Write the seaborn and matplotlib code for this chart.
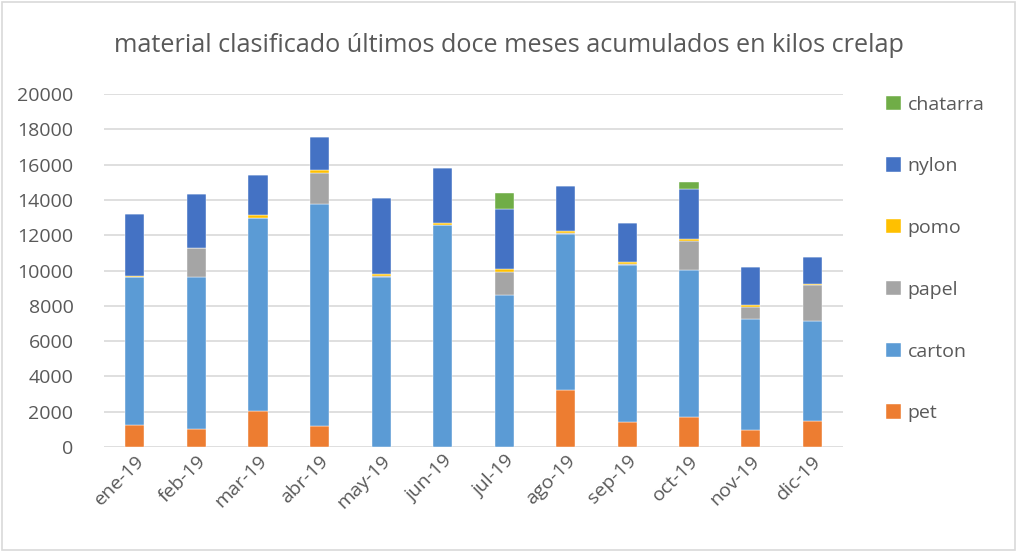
import matplotlib
matplotlib.use("Agg")
import matplotlib.pyplot as plt
from matplotlib.patches import Rectangle
import numpy as np
import pandas as pd
import seaborn as sns

months = ['ene-19', 'feb-19', 'mar-19', 'abr-19', 'may-19', 'jun-19',
          'jul-19', 'ago-19', 'sep-19', 'oct-19', 'nov-19', 'dic-19']

# kilos per material (stack order bottom -> top)
pet = [1230, 1000, 2040, 1190, 0, 0, 0, 3220, 1400, 1700, 950, 1480]
carton = [8380, 8610, 10920, 12600, 9610, 12580, 8610, 8870, 8910, 8310, 6280, 5680]
papel = [50, 1670, 30, 1760, 60, 20, 1320, 30, 30, 1680, 720, 2020]
pomo = [30, 20, 180, 170, 110, 100, 150, 100, 140, 110, 110, 80]
nylon = [3520, 3010, 2230, 1870, 4330, 3120, 3420, 2540, 2190, 2820, 2160, 1500]
chatarra = [0, 0, 0, 0, 0, 0, 910, 0, 0, 400, 0, 0]

materials = ['pet', 'carton', 'papel', 'pomo', 'nylon', 'chatarra']
series = [pet, carton, papel, pomo, nylon, chatarra]
colors = ['#ED7D31', '#5B9BD5', '#A5A5A5', '#FFC000', '#4472C4', '#70AD47']

df = pd.DataFrame({'mes': months})
for name, vals in zip(materials, series):
    df[name] = vals

sns.set_style('white')
plt.rcParams['font.family'] = ['Open Sans', 'DejaVu Sans']
grey = '#595959'

fig = plt.figure(figsize=(10.17, 5.52), dpi=100)
ax = fig.add_axes([104 / 1017, 1 - 447 / 552, 739 / 1017, 353 / 552])

bottom = np.zeros(len(months))
for name, color in zip(materials, colors):
    sns.barplot(data=df, x='mes', y=name, color=color, saturation=1, width=0.31,
                bottom=bottom.copy(), label=name, ax=ax, zorder=3,
                edgecolor='white', linewidth=0.3)
    bottom += df[name].to_numpy()

ax.set_ylim(0, 20000)
ax.set_xlim(-0.5, len(months) - 0.5)
ax.set_yticks(np.arange(0, 20001, 2000))
ax.yaxis.grid(True, color='#D9D9D9', linewidth=1.2, zorder=0)
ax.set_axisbelow(True)
for s in ax.spines.values():
    s.set_visible(False)
ax.tick_params(axis='both', length=0, colors=grey, labelsize=14)
ax.tick_params(axis='y', pad=22)
ax.set_xlabel('')
ax.set_ylabel('')
plt.setp(ax.get_xticklabels(), rotation=45, ha='right', rotation_mode='anchor')

fig.suptitle('material clasificado últimos doce meses acumulados en kilos crelap',
             x=0.50, y=1 - 45 / 552, va='center', fontsize=18.2, color=grey)

handles, labels = ax.get_legend_handles_labels()
ax.legend(handles[::-1], labels[::-1], loc='center left',
          bbox_to_anchor=(886 / 1017, 1 - 259 / 552), bbox_transform=fig.transFigure,
          frameon=False, fontsize=14, labelcolor=grey, borderpad=0, borderaxespad=0,
          handlelength=0.75, handleheight=0.75, handletextpad=0.35, labelspacing=2.25)

fig.patches.append(Rectangle((0.002, 0.003), 0.996, 0.994, transform=fig.transFigure,
                             fill=False, edgecolor='#D9D9D9', linewidth=1.2))

fig.savefig('out.png', dpi=100)
